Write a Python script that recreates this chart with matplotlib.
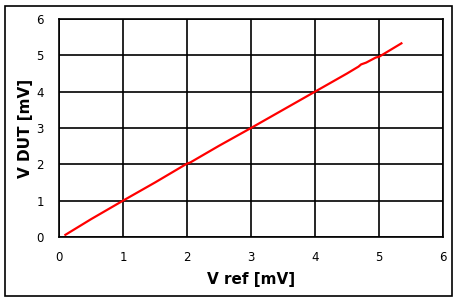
import matplotlib.pyplot as plt
from matplotlib.patches import Rectangle

# 측정 데이터 (V ref vs V DUT)
v_ref = [0.1, 0.5, 1.0, 1.5, 2.0, 2.05, 2.5, 3.0, 3.5, 4.0, 4.5, 4.68, 4.72, 4.8, 4.95, 5.0, 5.35]
v_dut = [0.06, 0.49, 1.0, 1.5, 2.02, 2.05, 2.51, 3.0, 3.5, 4.0, 4.5, 4.69, 4.75, 4.8, 4.94, 4.96, 5.33]
ticks = [0, 1, 2, 3, 4, 5, 6]

fig = plt.figure(figsize=(4.61, 3.02), dpi=100)
fig.patches.append(Rectangle((5/461, 6/302), 447/461, 290/302, transform=fig.transFigure,
                             fill=False, edgecolor='black', linewidth=1.2))

ax = fig.add_axes([59/461, 1-237/302, 384/461, 218/302])
ax.plot(v_ref, v_dut, color='red', linewidth=1.6)
ax.set_xlim(0, 6)
ax.set_ylim(0, 6)
ax.set_xticks(ticks)
ax.set_yticks(ticks)
ax.grid(True, color='black', linewidth=1.2)
for s in ax.spines.values():
    s.set_linewidth(1.2)
ax.tick_params(length=0, labelsize=8.5)
ax.tick_params(axis='y', pad=11)
ax.tick_params(axis='x', pad=10)
ax.set_xlabel('V ref [mV]', fontsize=11, fontweight='bold', labelpad=6)
ax.set_ylabel('V DUT [mV]', fontsize=11, fontweight='bold', labelpad=2)

fig.savefig('out.png', dpi=100)
